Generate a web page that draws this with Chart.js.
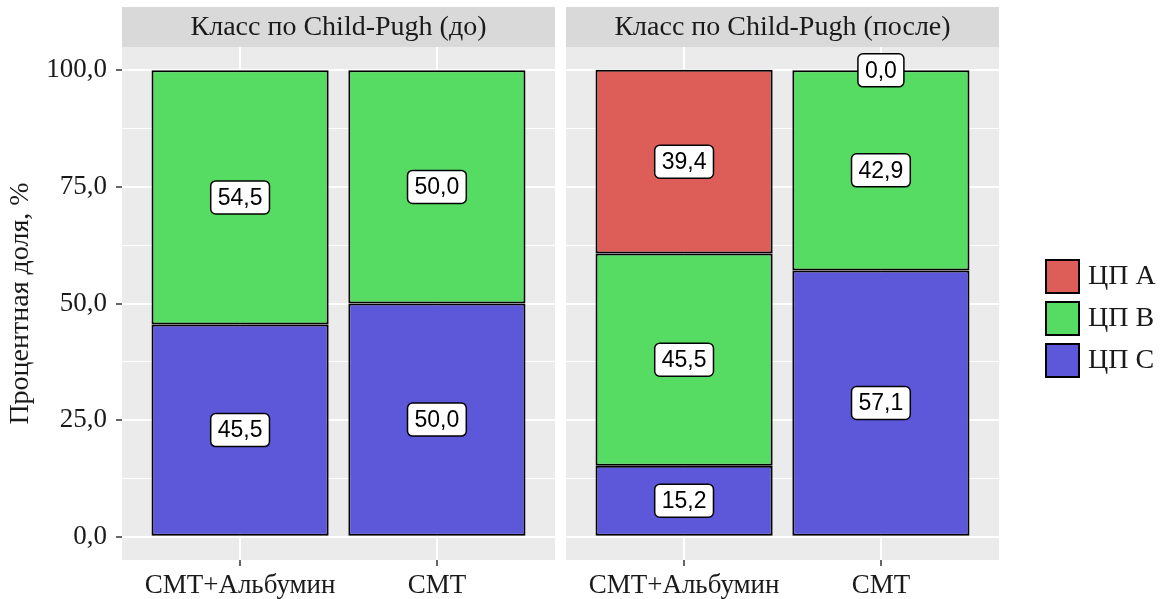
<!DOCTYPE html>
<html><head><meta charset="utf-8">
<script src="https://cdn.jsdelivr.net/npm/chart.js@4.4.1/dist/chart.umd.min.js"></script>
<style>
html,body{margin:0;padding:0;background:#fff;}
#wrap{position:relative;width:1166px;height:599px;overflow:hidden;background:#fff;}
canvas{position:absolute;top:0;}
#c1{left:0;} #c2{left:560px;}
</style></head><body>
<div id="wrap"><canvas id="c1" width="560" height="599"></canvas><canvas id="c2" width="606" height="599"></canvas></div>
<script>
// ---- data ----
const categories = ['СМТ+Альбумин', 'СМТ'];
const facetTitles = ['Класс по Child-Pugh (до)', 'Класс по Child-Pugh (после)'];
const seriesNames = ['ЦП A', 'ЦП B', 'ЦП C'];
const seriesColors = ['#DD5E58', '#57DC63', '#5D57DA'];
const beforeA = [null, null];
const beforeB = [54.5, 50.0];
const beforeC = [45.5, 50.0];
const afterA = [39.4, 0.0];
const afterB = [45.5, 42.9];
const afterC = [15.2, 57.1];
const yTickValues = [0, 25, 50, 75, 100];
const yTickLabels = ['0,0', '25,0', '50,0', '75,0', '100,0'];
const yMinorValues = [12.5, 37.5, 62.5, 87.5];
const yTitle = 'Процентная доля, %';

const FONT = 'Liberation Serif';
const LABEL_FONT = 'Liberation Sans';
const TXT = '#1a1a1a';
Chart.defaults.font.family = FONT;

function fmt(v) { return v.toFixed(1).replace('.', ','); }
function isMajor(ctx) { return ctx && ctx.tick && yTickValues.indexOf(ctx.tick.value) >= 0; }

function buildDatasets(A, B, C) {
  const bySeries = [A, B, C];
  // bottom-most first: C, B, A
  return [2, 1, 0].map(k => ({
    label: seriesNames[k],
    data: categories.map((c, i) => ({ x: i + 1, y: bySeries[k][i] })),
    backgroundColor: seriesColors[k],
    borderColor: '#000',
    borderWidth: 2,
    borderSkipped: false,
    barPercentage: 0.9,
    categoryPercentage: 1.0
  }));
}

const stripPlugin = {
  id: 'strip',
  beforeDraw(chart, args, opts) {
    const { ctx, chartArea: a } = chart;
    ctx.save();
    ctx.fillStyle = '#D9D9D9';
    ctx.fillRect(a.left, 7, a.right - a.left, a.top - 7);
    ctx.fillStyle = '#EBEBEB';
    ctx.fillRect(a.left, a.top, a.right - a.left, a.bottom - a.top);
    ctx.fillStyle = TXT;
    ctx.font = '28px "' + FONT + '"';
    ctx.textAlign = 'center';
    ctx.textBaseline = 'middle';
    ctx.fillText(opts.text, (a.left + a.right) / 2, (7 + a.top) / 2 + 1);
    ctx.restore();
  }
};

const valueLabelPlugin = {
  id: 'valueLabels',
  afterDatasetsDraw(chart) {
    const ctx = chart.ctx;
    ctx.save();
    ctx.font = '23px "' + LABEL_FONT + '"';
    ctx.textAlign = 'center';
    ctx.textBaseline = 'middle';
    chart.data.datasets.forEach((ds, di) => {
      const meta = chart.getDatasetMeta(di);
      meta.data.forEach((el, j) => {
        const v = ds.data[j].y;
        if (v === null || v === undefined) return;
        const t = fmt(v);
        const cx = el.x, cy = (el.y + el.base) / 2;
        const w = ctx.measureText(t).width + 14, h = 33, r = 5;
        const x0 = cx - w / 2, y0 = cy - h / 2;
        ctx.beginPath();
        ctx.moveTo(x0 + r, y0);
        ctx.lineTo(x0 + w - r, y0);
        ctx.arcTo(x0 + w, y0, x0 + w, y0 + r, r);
        ctx.lineTo(x0 + w, y0 + h - r);
        ctx.arcTo(x0 + w, y0 + h, x0 + w - r, y0 + h, r);
        ctx.lineTo(x0 + r, y0 + h);
        ctx.arcTo(x0, y0 + h, x0, y0 + h - r, r);
        ctx.lineTo(x0, y0 + r);
        ctx.arcTo(x0, y0, x0 + r, y0, r);
        ctx.closePath();
        ctx.fillStyle = '#fff';
        ctx.fill();
        ctx.lineWidth = 1.5;
        ctx.strokeStyle = '#000';
        ctx.stroke();
        ctx.fillStyle = '#000';
        ctx.fillText(t, cx, cy + 1);
      });
    });
    ctx.restore();
  }
};

const legendPlugin = {
  id: 'sideLegend',
  afterDraw(chart, args, opts) {
    if (!opts.show) return;
    const ctx = chart.ctx;
    ctx.save();
    const items = chart.data.datasets.slice().reverse();
    const x0 = chart.chartArea.right + 46;
    let y = 259;
    ctx.font = '28px "' + FONT + '"';
    ctx.textBaseline = 'middle';
    ctx.textAlign = 'left';
    items.forEach(ds => {
      ctx.fillStyle = ds.backgroundColor;
      ctx.fillRect(x0, y, 35, 35);
      ctx.lineWidth = 2;
      ctx.strokeStyle = '#000';
      ctx.strokeRect(x0 + 1, y + 1, 33, 33);
      ctx.fillStyle = TXT;
      ctx.fillText(ds.label, x0 + 43, y + 18);
      y += 42;
    });
    ctx.restore();
  }
};

function makeChart(id, title, A, B, C, showY, showLegend, padding) {
  return new Chart(document.getElementById(id), {
    type: 'bar',
    data: { datasets: buildDatasets(A, B, C) },
    plugins: [stripPlugin, valueLabelPlugin, legendPlugin],
    options: {
      responsive: false,
      animation: false,
      layout: { padding },
      plugins: {
        legend: { display: false },
        tooltip: { enabled: false },
        strip: { text: title },
        sideLegend: { show: showLegend }
      },
      scales: {
        x: {
          type: 'linear', min: 0.4, max: 2.6, stacked: true, offset: false,
          afterBuildTicks: s => { s.ticks = categories.map((c, i) => ({ value: i + 1 })); },
          afterFit: s => { s.height = 39; },
          ticks: {
            callback: v => categories[Math.round(v) - 1],
            font: { family: FONT, size: 27 }, color: TXT, padding: 4,
            maxRotation: 0, autoSkip: false
          },
          grid: { offset: false, color: '#fff', lineWidth: 2, tickColor: '#333', tickLength: 6, tickWidth: 1.5 },
          border: { display: false }
        },
        y: {
          min: -5, max: 105, stacked: true,
          afterBuildTicks: s => {
            s.ticks = yTickValues.concat(yMinorValues).sort((a, b) => a - b).map(v => ({ value: v }));
          },
          afterFit: s => { s.width = showY ? 122 : 0; },
          ticks: {
            display: showY,
            callback: v => { const k = yTickValues.indexOf(v); return k >= 0 ? yTickLabels[k] : ''; },
            font: { family: FONT, size: 27 }, color: TXT, padding: 9, autoSkip: false
          },
          grid: {
            color: '#fff',
            lineWidth: c => isMajor(c) ? 2 : 1,
            tickColor: c => isMajor(c) ? '#333' : 'rgba(0,0,0,0)',
            drawTicks: showY, tickLength: 6, tickWidth: 1.5
          },
          border: { display: false },
          title: {
            display: showY, text: yTitle, color: TXT,
            font: { family: FONT, size: 28 }, padding: { top: 4, bottom: 0 }
          }
        }
      }
    }
  });
}

makeChart('c1', facetTitles[0], beforeA, beforeB, beforeC, true, false, { left: 0, top: 47, right: 5, bottom: 0 });
makeChart('c2', facetTitles[1], afterA, afterB, afterC, false, true, { left: 6, top: 47, right: 167, bottom: 0 });
</script>
</body></html>
